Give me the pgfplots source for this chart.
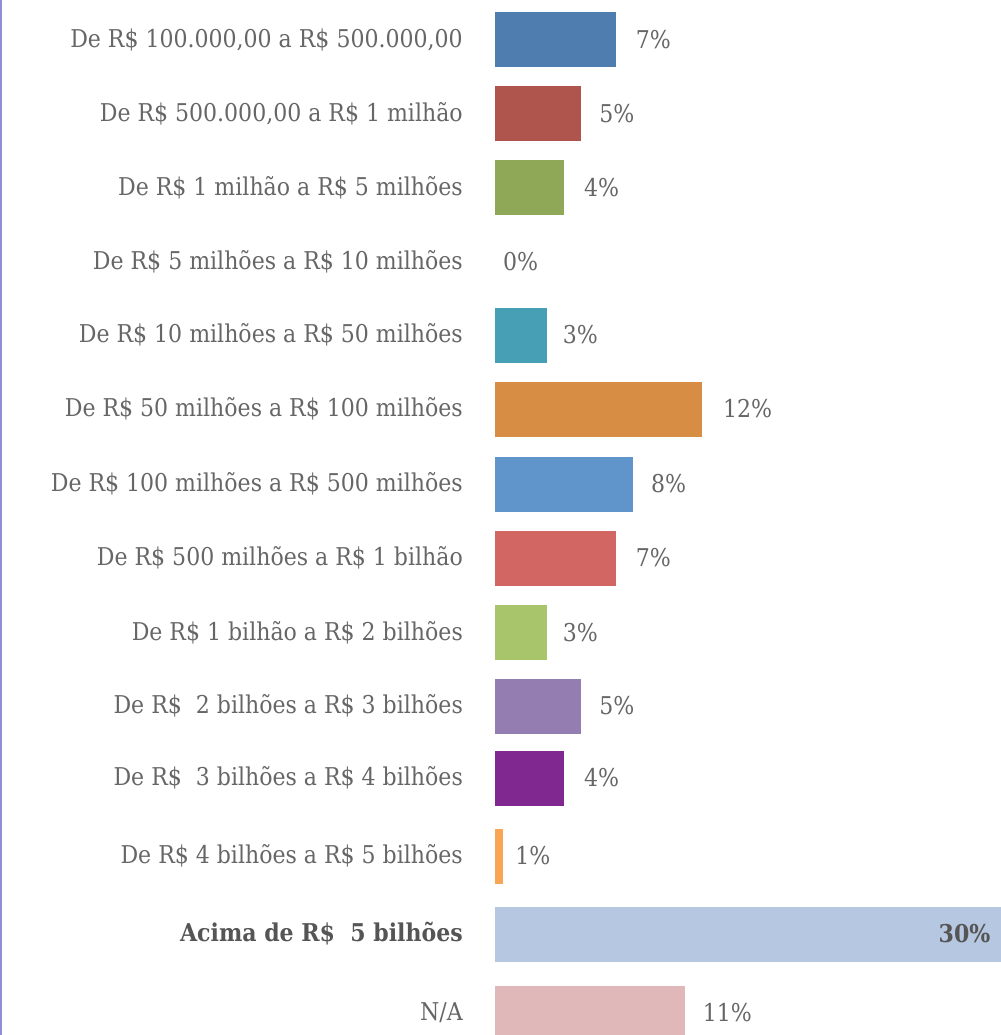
\documentclass[border=0pt]{standalone}
\usepackage{fontspec}
\setmainfont{DejaVu Serif Condensed}
\usepackage{pgfplots}
\pgfplotsset{compat=1.18}

\definecolor{c1}{HTML}{4F7DAF}
\definecolor{c2}{HTML}{B0554E}
\definecolor{c3}{HTML}{8EA857}
\definecolor{c5}{HTML}{469FB4}
\definecolor{c6}{HTML}{D78D44}
\definecolor{c7}{HTML}{5F95CB}
\definecolor{c8}{HTML}{D26662}
\definecolor{c9}{HTML}{A9C56B}
\definecolor{c10}{HTML}{947DB0}
\definecolor{c11}{HTML}{80288F}
\definecolor{c12}{HTML}{F8A655}
\definecolor{c13}{HTML}{B5C7E1}
\definecolor{c14}{HTML}{E1B8B9}
\definecolor{txt}{HTML}{666666}
\definecolor{txtdark}{HTML}{555555}
\definecolor{edge}{HTML}{8F8FD6}

% one bar: value, row position, colour, label, label shift
\newcommand{\onebar}[5]{%
  \addplot[xbar, bar shift=0pt, fill=#3, draw=none,
    nodes near coords={#4},
    every node near coord/.append style={xshift=#5}]
    coordinates {(#1,#2)};}

\newcommand{\lbl}{\fontsize{24.6}{29}\selectfont}

\begin{document}
\begin{tikzpicture}
% the page ends at 506bp: the 30% bar runs past it, as in the source
\path[use as bounding box] (-495bp,0) rectangle (506bp,1035bp);
\draw[edge, line width=2bp] (-494bp,0) -- (-494bp,1035bp);
\begin{axis}[
  at={(0,0)}, anchor=south west,
  width=517.5bp, height=1035bp, scale only axis,
  xmin=0, xmax=30, ymin=0, ymax=1035, y dir=reverse,
  xbar, bar width=55, bar shift=0pt,
  axis line style={draw=none}, tick style={draw=none},
  major tick length=0pt,
  xtick=\empty,
  ytick={39.5,113.5,187.5,261.5,335,409,484,558,632.5,706,778,856,934,1013},
  yticklabels={
    {De R\$ 100.000,00 a R\$ 500.000,00},
    {De R\$ 500.000,00 a R\$ 1 milhão},
    {De R\$ 1 milhão a R\$ 5 milhões},
    {De R\$ 5 milhões a R\$ 10 milhões},
    {De R\$ 10 milhões a R\$ 50 milhões},
    {De R\$ 50 milhões a R\$ 100 milhões},
    {De R\$ 100 milhões a R\$ 500 milhões},
    {De R\$ 500 milhões a R\$ 1 bilhão},
    {De R\$ 1 bilhão a R\$ 2 bilhões},
    {De R\$\ \ 2 bilhões a R\$ 3 bilhões},
    {De R\$\ \ 3 bilhões a R\$ 4 bilhões},
    {De R\$ 4 bilhões a R\$ 5 bilhões},
    {\textcolor{txtdark}{\bfseries Acima de R\$\ \ 5 bilhões}},
    {N/A}},
  yticklabel style={font=\lbl, text=txt, inner sep=0pt, xshift=-32bp},
  every node near coord/.style={font=\lbl, text=txt, inner sep=0pt, anchor=west},
  clip=false,
]
\onebar{7}{39.5}{c1}{7\%}{20bp}
\onebar{5}{113.5}{c2}{5\%}{18bp}
\onebar{4}{187.5}{c3}{4\%}{20bp}
\onebar{0}{261.5}{white}{0\%}{8bp}
\onebar{3}{335}{c5}{3\%}{16bp}
\onebar{12}{409}{c6}{12\%}{21bp}
\onebar{8}{484}{c7}{8\%}{18bp}
\onebar{7}{558}{c8}{7\%}{20bp}
\onebar{3}{632.5}{c9}{3\%}{16bp}
\onebar{5}{706}{c10}{5\%}{18bp}
\onebar{4}{778}{c11}{4\%}{20bp}
\onebar{0.48}{856}{c12}{1\%}{12bp}
\addplot[xbar, bar shift=0pt, fill=c13, draw=none,
  nodes near coords={\textbf{30\%}},
  every node near coord/.append style={xshift=-74bp, text=txtdark}]
  coordinates {(30,934)};
\onebar{11}{1013}{c14}{11\%}{18bp}
\end{axis}
\end{tikzpicture}
\end{document}
